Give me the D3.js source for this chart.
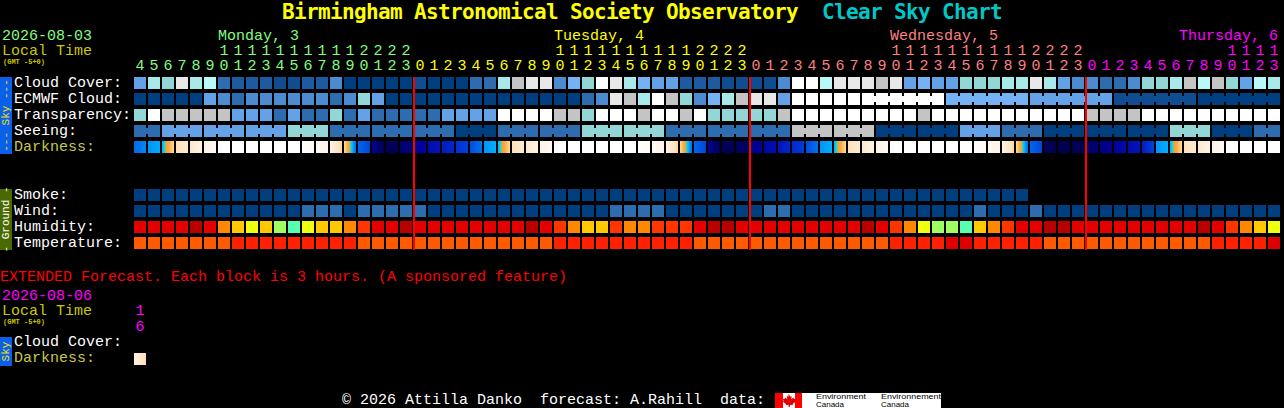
<!DOCTYPE html>
<html>
<head>
<meta charset="utf-8">
<title>Clear Sky Chart</title>
<script src="https://cdn.jsdelivr.net/npm/d3@7"></script>
<style>
    html, body { margin: 0; padding: 0; background: #000; overflow: hidden; }
    svg { display: block; }
    text { font-family: "Liberation Mono", "DejaVu Sans Mono", monospace; font-size: 15px; }
</style>
</head>
<body>
<div id="chart"></div>
<script>
var hours = [4,5,6,7,8,9,10,11,12,13,14,15,16,17,18,19,20,21,22,23,
    0,1,2,3,4,5,6,7,8,9,10,11,12,13,14,15,16,17,18,19,20,21,22,23,
    0,1,2,3,4,5,6,7,8,9,10,11,12,13,14,15,16,17,18,19,20,21,22,23,
    0,1,2,3,4,5,6,7,8,9,10,11,12,13];
var dayLabels = ["Monday, 3", "Tuesday, 4", "Wednesday, 5", "Thursday, 6"];
var midnights = [20, 44, 68];

var skyLabels = ["Cloud Cover:", "ECMWF Cloud:", "Transparency:", "Seeing:", "Darkness:"];
var groundLabels = ["Smoke:", "Wind:", "Humidity:", "Temperature:"];

// sky rows are levels into skyColors, 0 = best sky
var cloudCover = [5,8,7,11,8,9,3,2,2,2,1,1,2,2,4,0,0,0,0,0,1,
    0,0,0,3,3,8,10,11,11,4,6,7,12,11,8,6,5,5,2,2,2,1,1,1,1,4,12,12,9,11,11,
    11,10,11,5,6,5,5,7,7,7,8,8,11,8,5,4,4,3,3,4,7,7,8,10,9,10,7,5,9,8];
var ecmwfCloud = [0,0,0,0,0,5,4,3,4,4,4,4,4,4,3,4,7,5,0,0,0,
    0,0,0,0,0,0,0,0,0,0,0,3,4,11,10,8,12,10,7,4,6,8,10,11,11,5,12,12,12,12,12,
    12,12,12,12,12,12,6,6,6,6,6,6,5,5,5,5,5,5,1,1,1,1,1,1,0,0,0,0,0,0];
var ecmwfBlocks = [52,58,64,70,76];
var transparency = [7,12,10,10,10,10,10,5,5,5,3,5,3,3,7,3,5,3,3,3,3,
    3,5,5,5,5,12,12,12,12,10,10,7,12,12,12,10,12,12,10,12,7,7,7,7,7,10,12,12,12,12,12,
    12,12,12,12,10,12,12,12,12,12,12,12,12,12,12,12,10,10,10,10,12,12,12,12,12,12,12,12,12,12];
var seeing = [3,3,5,5,5,5,5,5,5,5,5,7,7,7,3,3,3,3,3,3,3,
    3,3,0,0,0,3,3,3,3,3,3,7,7,7,7,7,7,3,3,3,3,3,3,3,3,3,10,10,10,10,10,
    10,0,0,0,0,0,0,5,5,5,3,3,3,0,0,0,0,0,0,0,0,0,7,7,7,0,0,0,3,3];
var seeingBlocks = [0,2,5,8,11,14,17,20,23,26,29,32,35,38,41,44,47,50,53,56,59,62,65,68,71,74,77,80];

// darkness at the left and right side of each block, 0 = daylight
var darkStart = [6,5.3,4.9,2,1.7,1,0.2,0,0,0,0,0,0,0.4,1,2.2,6,9,10.5,10,9.2,
    8.3,7.6,7,6.5,5.3,4.9,2,1.7,1,0.2,0,0,0,0,0,0,0.4,1,2.2,6,9,10.5,10.5,9.5,8.6,7.9,7.2,6.5,5.3,4.9,2,
    1.7,1,0.2,0,0,0,0,0,0,0.5,1,2.2,6,10.5,10.7,10.7,10,9.4,8.9,8.2,7.6,5.3,4.9,2,1.7,1,0.2,0,0,0];
var darkEnd = [5.5,5,2.2,1.6,1,0.4,0,0,0,0,0,0,0.3,1,2.3,6,6.6,10.5,10.5,9.5,8.8,
    7.8,7.3,6.7,5.8,4.9,2.2,1.6,1,0.4,0,0,0,0,0,0,0.3,1,2.3,6,6.6,10.5,10.5,10,9,8,7.3,6.8,5.8,4.9,2.2,1.6,
    1,0.4,0,0,0,0,0,0,0.4,1,2.3,6,6.6,10.7,10.7,10.5,9.7,9.2,8.4,7.8,6.6,4.9,2.2,1.6,1,0.4,0,0,0,0];

var smoke = [0,0,0,0,0,0,0,0,0,0,0,0,0,0,0,0,0,0,0,0,0,0,0,0,0,0,0,0,0,0,0,0,
    0,0,0,0,0,0,0,0,0,0,0,0,0,0,0,0,0,0,0,0,0,0,0,0,0,0,0,0,0,0,0,0];
var wind = [0,0,0,0,0,0,0,0,0,0,0,0,3,3,3,0,3,3,3,3,3,
    0,0,0,0,0,0,0,0,0,0,0,0,0,3,3,3,3,0,0,0,0,0,0,0,3,3,0,0,0,0,0,
    0,0,0,0,0,0,0,0,3,0,0,0,3,0,0,0,0,0,0,0,0,0,0,0,0,0,0,0,0,0];
// humidity and temperature are levels into their own colour lists
var humidity = [1,1,1,1,0,1,3,4,5,4,6,7,5,4,4,3,2,1,1,0,1,
    1,1,1,1,1,1,1,0,1,2,3,4,4,2,3,3,2,2,2,1,0,0,1,1,1,1,1,1,1,1,1,
    0,1,2,3,5,6,6,7,4,3,2,1,1,0,0,1,1,1,1,1,1,1,1,1,0,1,2,3,4,5];
var temperature = [0,0,0,0,0,0,0,1,1,1,1,1,1,1,1,1,0,0,0,0,0,
    0,0,0,0,0,0,0,0,0,1,1,1,1,1,1,1,1,1,1,0,0,0,0,0,0,0,0,0,0,0,0,
    0,0,1,1,1,1,2,2,1,1,1,1,1,0,0,0,0,0,0,0,0,0,0,0,0,1,1,1,1,2];

var extHours = [16];
var extDarkStart = [1];
var extDarkEnd = [2.2];

var skyColors = ["#003f7f","#0f4d90","#1d5a9f","#2d6cae","#4c8bd0","#63a2e6","#75b2f4",
    "#93d6d6","#a8e8e8","#baf8f8","#c4c4c4","#e8e8e8","#ffffff"];
var humidityColors = ["#b80000","#e40000","#ff3600","#ff8800","#ffc800","#eeff10","#a0ff60","#58ffb0"];
var temperatureColors = ["#ff5a00","#ff2000","#e00000"];
var darkLevels = [0,1,2,2.6,3.4,4,4.15,4.3,4.7,5,6,7,8,9,10,11];
var darkColors = ["#ffffff","#fff3e4","#ffe2bf","#ffc880","#ffa838","#ff9c28","#60d090","#00e0f0",
    "#00c0ff","#00a8ff","#0068e8","#0030d4","#0010b4","#00009c","#000068","#000048"];

var dayColors = ["#80ff80","#ffff00","#ff8080","#ff00ff"];

function start(){
    var width = 1284, height = 408;
    var svg = d3.select("#chart").append("svg")
        .attr("width", width)
        .attr("height", height);

    var x = d3.scaleBand()
        .domain(d3.range(hours.length))
        .range([134, 134 + 14 * hours.length - 2])
        .paddingInner(2 / 14)
        .paddingOuter(0);
    var skyY = d3.scaleBand()
        .domain(skyLabels)
        .range([77, 153])
        .paddingInner(4 / 16)
        .paddingOuter(0);
    var groundY = d3.scaleBand()
        .domain(groundLabels)
        .range([189, 249])
        .paddingInner(4 / 16)
        .paddingOuter(0);
    var skyColor = d3.scaleOrdinal().domain(d3.range(skyColors.length)).range(skyColors);
    var humidityColor = d3.scaleOrdinal().domain(d3.range(humidityColors.length)).range(humidityColors);
    var temperatureColor = d3.scaleOrdinal().domain(d3.range(temperatureColors.length)).range(temperatureColors);
    var darkColor = d3.scaleLinear().domain(darkLevels).range(darkColors);

    // day each column belongs to
    var dayOf = [];
    var day = 0;
    hours.forEach(function(h, i){
        if (i > 0 && h == 0) day++;
        dayOf.push(day);
    });

    drawHeader(svg, x, dayOf);

    // rows
    drawRow(svg, x, skyY("Cloud Cover:"), cloudCover, skyColor, []);
    drawRow(svg, x, skyY("ECMWF Cloud:"), ecmwfCloud, skyColor, ecmwfBlocks);
    drawRow(svg, x, skyY("Transparency:"), transparency, skyColor, []);
    drawRow(svg, x, skyY("Seeing:"), seeing, skyColor, seeingBlocks);
    drawDarkness(svg, x, skyY("Darkness:"), skyY.bandwidth(), darkStart, darkEnd, darkColor, "dark");

    drawRow(svg, x, groundY("Smoke:"), smoke, skyColor, []);
    drawRow(svg, x, groundY("Wind:"), wind, skyColor, []);
    drawRow(svg, x, groundY("Humidity:"), humidity, humidityColor, []);
    drawRow(svg, x, groundY("Temperature:"), temperature, temperatureColor, []);

    // row labels
    svg.selectAll("text.sky_label")
        .data(skyLabels)
        .enter().append("text")
        .attr("class", "sky_label")
        .attr("x", 14)
        .attr("y", function(d){ return skyY(d) + 10; })
        .attr("fill", function(d){ return d == "Darkness:" ? "#c8c848" : "#ffffff"; })
        .text(function(d){ return d; });
    svg.selectAll("text.ground_label")
        .data(groundLabels)
        .enter().append("text")
        .attr("class", "ground_label")
        .attr("x", 14)
        .attr("y", function(d){ return groundY(d) + 10; })
        .attr("fill", "#ffffff")
        .text(function(d){ return d; });

    // midnight lines
    svg.selectAll("rect.midnight")
        .data(midnights)
        .enter().append("rect")
        .attr("class", "midnight")
        .attr("x", function(d){ return x(d) - 1; })
        .attr("y", 77)
        .attr("width", 2)
        .attr("height", 173)
        .attr("fill", "#ff0000");

    sideBar(svg, 77, 77, "#0a60e8", "#f0e000", "--- Sky ---");
    sideBar(svg, 189, 61, "#4a6a00", "#ffffff", "- Ground -");

    drawExtended(svg, x, darkColor);
    drawFooter(svg);
}

function drawRow(svg, x, top, values, color, blocks){
    var h = x.bandwidth();
    var g = svg.append("g");
    g.selectAll("rect.cell")
        .data(values)
        .enter().append("rect")
        .attr("class", "cell")
        .attr("x", function(d, i){ return x(i); })
        .attr("y", top)
        .attr("width", h)
        .attr("height", h)
        .attr("fill", function(d){ return color(d); });

    // blocks of the slower models are joined by a small bridge
    var bridges = [];
    blocks.forEach(function(s, k){
        var end = k + 1 < blocks.length ? blocks[k + 1] : values.length;
        for (var i = s; i < end - 1; i++) bridges.push(i);
    });
    g.selectAll("rect.bridge")
        .data(bridges)
        .enter().append("rect")
        .attr("class", "bridge")
        .attr("x", function(d){ return x(d) + h; })
        .attr("y", top + 3)
        .attr("width", x.step() - h)
        .attr("height", h - 6)
        .attr("fill", function(d){ return color(values[d]); });
}

function drawDarkness(svg, x, top, h, from, to, color, id){
    var defs = svg.append("defs");
    from.forEach(function(v, i){
        var grad = defs.append("linearGradient").attr("id", id + i);
        d3.range(0, 12.5).forEach(function(k){
            var t = k / 12;
            grad.append("stop")
                .attr("offset", t)
                .attr("stop-color", color(v + (to[i] - v) * t));
        });
    });
    svg.append("g").selectAll("rect")
        .data(from)
        .enter().append("rect")
        .attr("x", function(d, i){ return x(i); })
        .attr("y", top)
        .attr("width", h)
        .attr("height", h)
        .attr("fill", function(d, i){ return "url(#" + id + i + ")"; });
}

function drawHeader(svg, x, dayOf){
    var title = svg.append("text")
        .attr("x", 282)
        .attr("y", 19)
        .style("white-space", "pre")
        .style("font-family", "'DejaVu Sans Mono', monospace")
        .style("font-weight", "bold")
        .style("font-size", "21px")
        .style("letter-spacing", "-0.642px");
    title.append("tspan").attr("fill", "#ffff00").text("Birmingham Astronomical Society Observatory");
    title.append("tspan").attr("fill", "#00c8c8").attr("x", 822).text("Clear Sky Chart");

    svg.append("text").attr("x", 2).attr("y", 40).attr("fill", "#80ff80").text("2026-08-03");
    svg.append("text").attr("x", 2).attr("y", 55).attr("fill", "#c8c800").text("Local Time");
    svg.append("text").attr("x", 3).attr("y", 64).attr("fill", "#c8c800")
        .style("font-size", "7px").style("font-weight", "bold").text("(GMT -5+0)");

    // each day label sits over the 10 o'clock column, or against the right edge
    var right = x(hours.length - 1) + x.bandwidth() - 2;
    svg.selectAll("text.day")
        .data(dayLabels)
        .enter().append("text")
        .attr("class", "day")
        .attr("y", 40)
        .attr("fill", function(d, i){ return dayColors[i]; })
        .attr("x", function(d, i){
            var col = hours.findIndex(function(h, k){ return h == 10 && dayOf[k] == i; });
            return Math.min(x(col), right - d.length * 9);
        })
        .text(function(d){ return d; });

    var ones = d3.axisTop(x)
        .tickSize(0)
        .tickPadding(0)
        .offset(0)
        .tickFormat(function(i){ return hours[i] % 10; });
    var tens = d3.axisTop(x)
        .tickSize(0)
        .tickPadding(0)
        .offset(0)
        .tickValues(d3.range(hours.length).filter(function(i){ return hours[i] >= 10; }))
        .tickFormat(function(i){ return Math.floor(hours[i] / 10); });

    [[ones, 70], [tens, 55]].forEach(function(a){
        var g = svg.append("g")
            .attr("transform", "translate(0," + a[1] + ")")
            .call(a[0]);
        g.select(".domain").remove();
        g.attr("font-family", null).attr("font-size", null);
        g.selectAll("text")
            .attr("fill", function(i){ return dayColors[dayOf[i]]; });
    });
}

function sideBar(svg, top, h, fill, textColor, label){
    svg.append("rect")
        .attr("x", 0)
        .attr("y", top)
        .attr("width", 12)
        .attr("height", h)
        .attr("fill", fill);
    svg.append("text")
        .attr("transform", "translate(9," + (top + h / 2) + ") rotate(-90)")
        .attr("text-anchor", "middle")
        .attr("fill", textColor)
        .style("font-size", "11px")
        .text(label);
}

function drawExtended(svg, x, darkColor){
    svg.append("text").attr("x", 0).attr("y", 281).attr("fill", "#ff0000")
        .text("EXTENDED Forecast. Each block is 3 hours. (A sponsored feature)");
    svg.append("text").attr("x", 2).attr("y", 300).attr("fill", "#ff00ff").text("2026-08-06");
    svg.append("text").attr("x", 2).attr("y", 315).attr("fill", "#c8c800").text("Local Time");
    svg.append("text").attr("x", 3).attr("y", 324).attr("fill", "#c8c800")
        .style("font-size", "7px").style("font-weight", "bold").text("(GMT -5+0)");

    var ext = d3.axisTop(x)
        .tickSize(0)
        .tickPadding(0)
        .offset(0)
        .tickValues(d3.range(extHours.length));
    [[function(i){ return Math.floor(extHours[i] / 10); }, 315],
     [function(i){ return extHours[i] % 10; }, 331]].forEach(function(a){
        var g = svg.append("g")
            .attr("transform", "translate(0," + a[1] + ")")
            .call(ext.tickFormat(a[0]));
        g.select(".domain").remove();
        g.attr("font-family", null).attr("font-size", null);
        g.selectAll("text").attr("fill", "#ff00ff");
    });

    svg.append("text").attr("x", 14).attr("y", 346).attr("fill", "#ffffff").text("Cloud Cover:");
    svg.append("text").attr("x", 14).attr("y", 362).attr("fill", "#c8c848").text("Darkness:");
    sideBar(svg, 337, 29, "#0a60e8", "#f0e000", "Sky");
    drawDarkness(svg, x, 353, x.bandwidth(), extDarkStart, extDarkEnd, darkColor, "ext");
}

function drawFooter(svg){
    svg.append("text")
        .attr("x", 342)
        .attr("y", 404)
        .attr("fill", "#ffffff")
        .style("white-space", "pre")
        .text("\u00a9 2026 Attilla Danko  forecast: A.Rahill  data:");

    // Environment Canada logo
    var logo = svg.append("g").attr("transform", "translate(775,393)");
    logo.append("rect").attr("width", 166).attr("height", 15).attr("fill", "#ffffff");
    logo.append("rect").attr("width", 8).attr("height", 15).attr("fill", "#ff0000");
    logo.append("rect").attr("x", 20).attr("width", 7).attr("height", 15).attr("fill", "#ff0000");
    logo.append("path")
        .attr("d", "M13.5 1.5l1.6 2.8 1.4-.7-.4 3.2 2.2-1.6.5 1.5 1.7-.2-.6 2.2.7.7-3.2 2.4.4 1.2-3-.4v2h-1.5v-2l-3 .4.4-1.2-3.2-2.4.7-.7-.6-2.2 1.7.2.5-1.5 2.2 1.6-.4-3.2 1.4.7z")
        .attr("transform", "translate(0.5,-0.5) scale(0.98)")
        .attr("fill", "#e00000");
    [["Environment", 41, 6, 50], ["Canada", 41, 14, 28], ["Environnement", 106, 6, 60], ["Canada", 106, 14, 28]].forEach(function(t){
        logo.append("text")
            .attr("x", t[1])
            .attr("y", t[2])
            .attr("textLength", t[3])
            .attr("lengthAdjust", "spacingAndGlyphs")
            .attr("fill", "#000000")
            .style("font-family", "'Liberation Sans', sans-serif")
            .style("font-size", "7px")
            .text(t[0]);
    });
}

start();
</script>
</body>
</html>
